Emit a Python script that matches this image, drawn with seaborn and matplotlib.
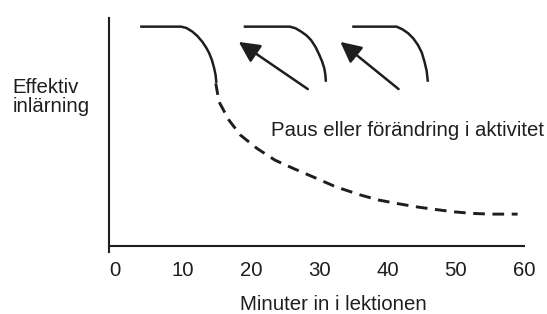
import seaborn as sns
import matplotlib.pyplot as plt

# --- values (x = minutes, y = relative learning 0-100) ---
curve1_x = [3.76, 9.78, 10.55, 11.42, 12.14, 12.86, 13.44, 13.87, 14.28, 14.60, 14.81, 14.93]
curve1_y = [96.2, 96.2, 95.6, 94.0, 92.1, 89.6, 87.0, 84.6, 81.5, 78.0, 75.0, 71.5]

curve2_x = [18.93, 25.68, 26.52, 27.36, 28.11, 28.80, 29.45, 30.01, 30.42, 30.74, 30.90, 30.97]
curve2_y = [96.2, 96.2, 95.5, 94.0, 92.4, 90.3, 87.3, 83.8, 80.9, 77.9, 75.0, 72.0]

curve3_x = [34.83, 41.33, 42.20, 43.02, 43.79, 44.47, 45.01, 45.42, 45.74, 45.91]
curve3_y = [96.2, 96.2, 95.0, 93.3, 91.0, 88.1, 84.9, 80.8, 76.7, 72.0]

decline_x = [14.84, 15.32, 16.76, 18.45, 20.85, 23.51, 26.16, 29.05, 32.41, 36.03,
             38.68, 41.33, 44.22, 46.86, 49.75, 52.41, 55.30, 59.06]
decline_y = [71.3, 63.2, 55.2, 48.6, 42.8, 37.6, 34.0, 30.3, 25.9, 22.3,
             20.1, 18.6, 17.1, 16.0, 14.9, 14.2, 13.9, 13.9]

# arrows: (tail_x, tail_y, head_x, head_y)
arrow1 = (28.32, 68.8, 18.21, 89.5)
arrow2 = (41.62, 68.8, 33.09, 89.5)

xticks = [0, 10, 20, 30, 40, 50, 60]

sns.set_style("white")
plt.rcParams["font.family"] = ["Liberation Sans", "DejaVu Sans"]

ink = "#1e1e1e"
fs = 14.7

fig = plt.figure(figsize=(5.47, 3.14), dpi=100)
ax = fig.add_axes([0.1993, 0.1984, 0.7587, 0.7443])

# spines first (moving a spine resets the tick labels)
for side in ["top", "right"]:
    ax.spines[side].set_visible(False)
ax.spines["bottom"].set_position(("data", 0))
for side in ["left", "bottom"]:
    ax.spines[side].set_color(ink)
    ax.spines[side].set_linewidth(1.5)

for xs, ys in [(curve1_x, curve1_y), (curve2_x, curve2_y), (curve3_x, curve3_y)]:
    sns.lineplot(x=xs, y=ys, sort=False, ax=ax, color=ink, lw=1.8,
                 solid_capstyle="butt", solid_joinstyle="round")

sns.lineplot(x=decline_x, y=decline_y, sort=False, ax=ax, color=ink, lw=2.1,
             linestyle=(0, (4.0, 2.6)), dash_capstyle="butt")

for tx, ty, hx, hy in [arrow1, arrow2]:
    ax.annotate("", xy=(hx, hy), xytext=(tx, ty),
                arrowprops=dict(arrowstyle="-|>,head_length=0.9,head_width=0.45",
                                color=ink, lw=1.8, shrinkA=0, shrinkB=0,
                                mutation_scale=14))

ax.text(23.0, 48.2, "Paus eller förändring i aktivitet", fontsize=fs,
        color=ink, ha="left", va="baseline", clip_on=False)

ax.set_xlim(-0.8, 59.3)
ax.set_ylim(-2.6, 100)
ax.set_xticks(xticks)
ax.set_xticklabels([str(t) for t in xticks])
ax.set_yticks([])
ax.tick_params(axis="x", length=0, pad=11, labelsize=fs, labelcolor=ink)

ax.set_xlabel("Minuter in i lektionen", fontsize=fs, color=ink)
ax.xaxis.label.set_ha("left")
ax.xaxis.label.set_va("baseline")
ax.xaxis.set_label_coords(0.3157, -0.2495)
ax.set_ylabel("")

fig.text(12.7 / 547, 1 - 97 / 314, "Effektiv\ninlärning", fontsize=fs,
         color=ink, ha="left", va="center", linespacing=0.97)

fig.savefig("out.png", dpi=100)
plt.close(fig)
